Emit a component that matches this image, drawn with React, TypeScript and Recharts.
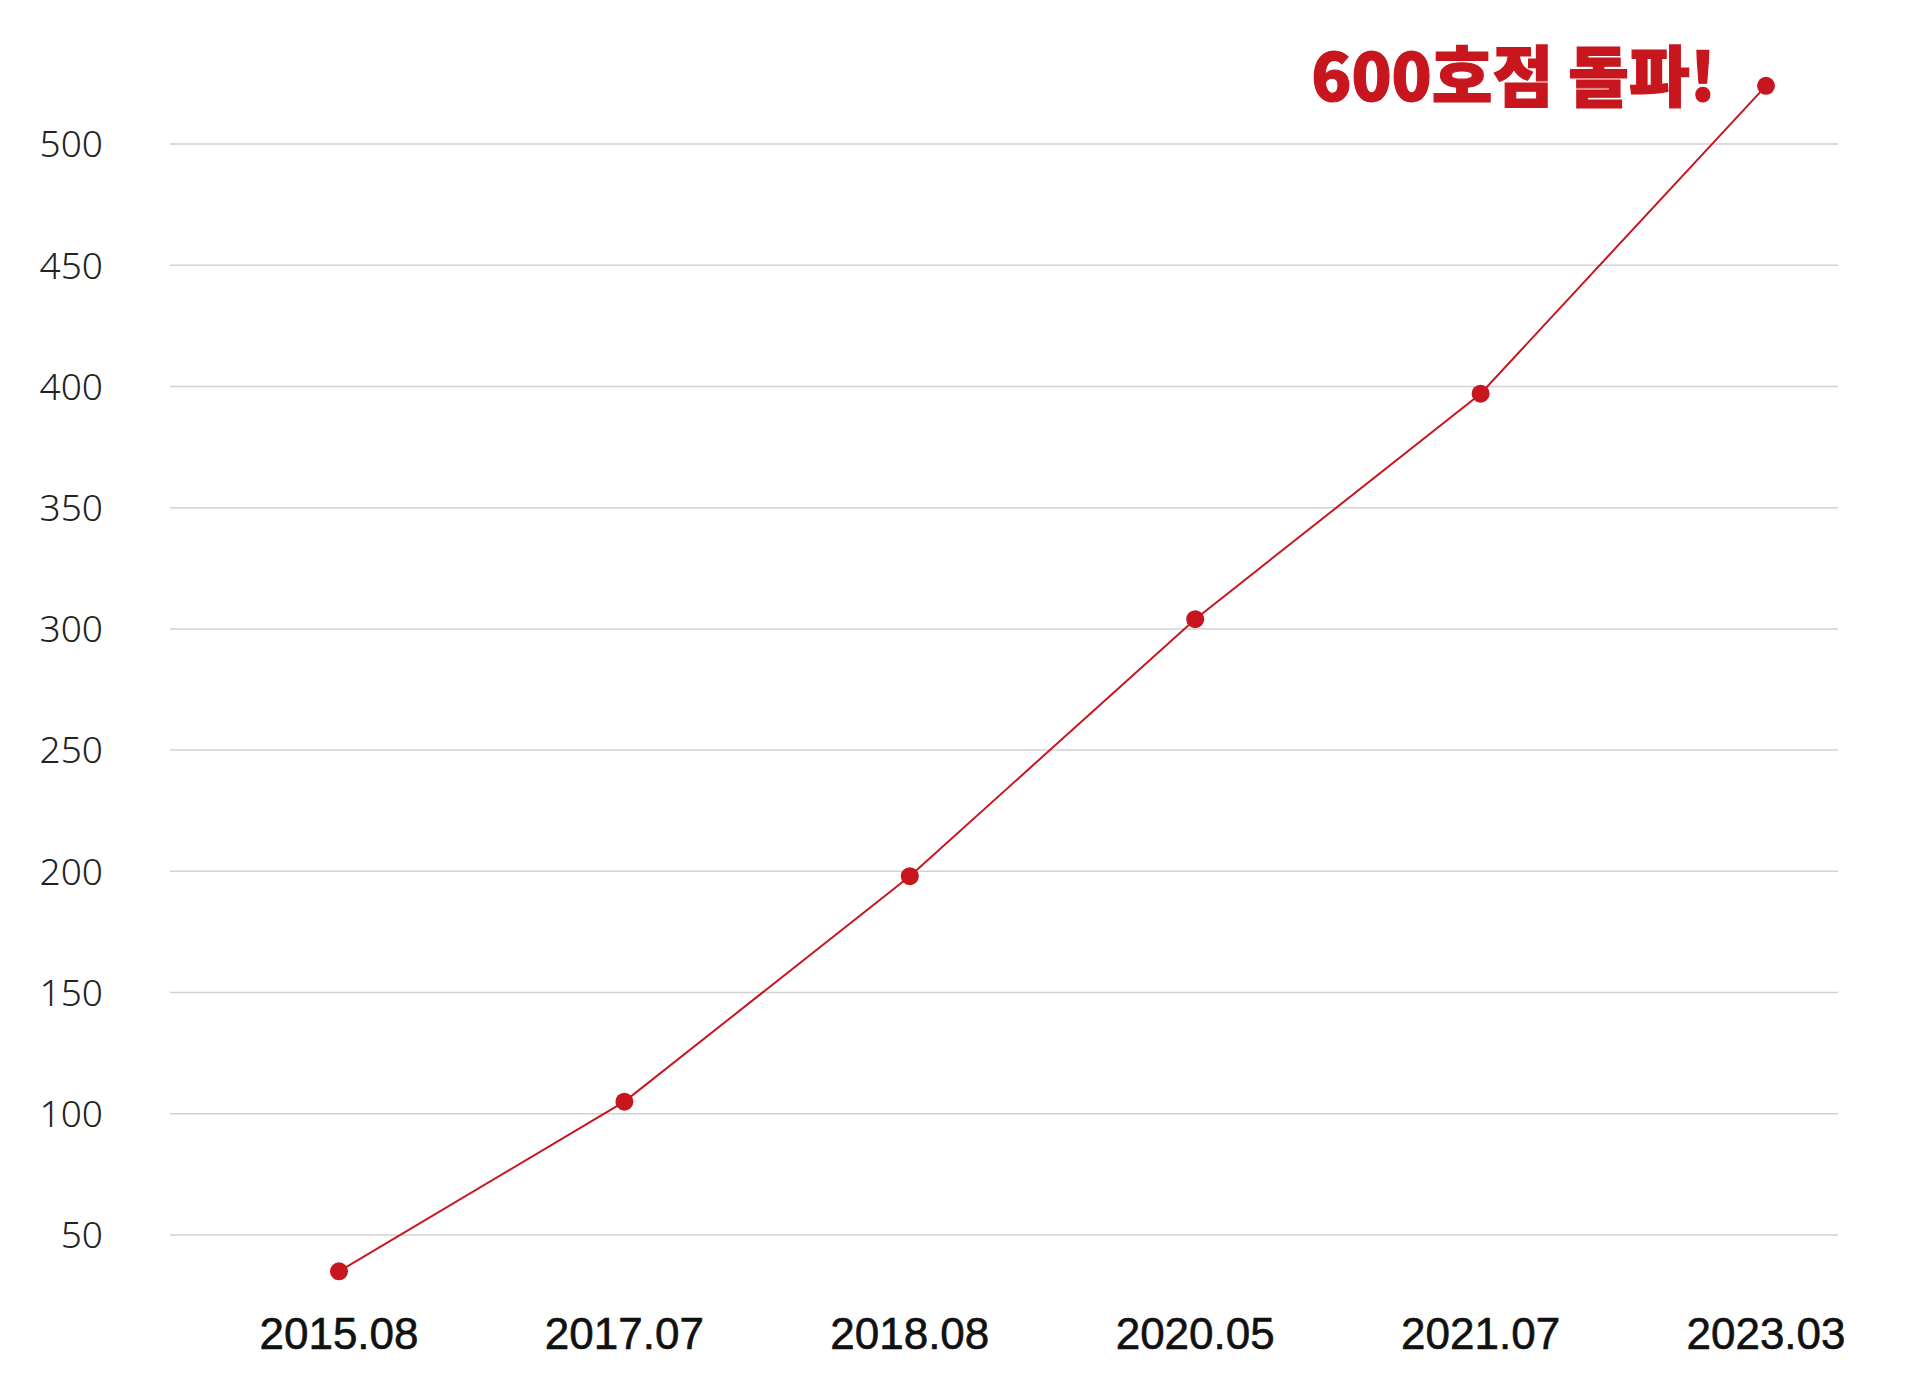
import { LineChart, Line, XAxis, YAxis, CartesianGrid, LabelList } from "recharts";

const periods = ["2015.08", "2017.07", "2018.08", "2020.05", "2021.07", "2023.03"];
const storeCounts = [35, 105, 198, 304, 397, 524];
const yTicks = [50, 100, 150, 200, 250, 300, 350, 400, 450, 500];
const milestoneLabel = "600호점 돌파!";

const RED = "#c8161e";

const data = periods.map((period, i) => ({ period, stores: storeCounts[i] }));

function YTick({ x, y, payload }: any) {
  return (
    <text
      x={x - 67}
      y={y}
      dy="0.36em"
      textAnchor="end"
      fill="#222"
      fontSize={37}
      fontWeight={300}
      fontFamily="'Noto Sans', 'Open Sans', sans-serif"
    >
      {payload.value}
    </text>
  );
}

function XTick({ x, y, payload }: any) {
  return (
    <text
      x={x}
      y={y + 41}
      textAnchor="middle"
      fill="#111"
      stroke="#111"
      strokeWidth={0.6}
      fontSize={44}
      fontFamily="'Liberation Sans', Arial, sans-serif"
    >
      {payload.value}
    </text>
  );
}

function MilestoneLabel({ x, y, index }: any) {
  if (index !== storeCounts.length - 1) return null;
  return (
    <text
      x={x - 50}
      y={y + 15}
      textAnchor="end"
      fill={RED}
      stroke={RED}
      strokeWidth={1.2}
      fontSize={66}
      fontWeight={900}
      fontFamily="'Noto Sans CJK KR', sans-serif"
    >
      {milestoneLabel}
    </text>
  );
}

export default function App() {
  return (
    <div style={{ position: "absolute", left: 0, top: 0, width: 1920, height: 1391, background: "#fff" }}>
      <LineChart width={1920} height={1391} data={data} margin={{ top: 47.02, right: 82, bottom: 0, left: 0 }}>
        <CartesianGrid vertical={false} horizontalValues={yTicks} stroke="#d2d2d2" strokeWidth={1.5} />
        <XAxis
          dataKey="period"
          scale="point"
          padding={{ left: 169, right: 72 }}
          axisLine={false}
          tickLine={false}
          tickSize={0}
          tickMargin={0}
          height={83.27}
          interval={0}
          tick={<XTick />}
        />
        <YAxis
          domain={[20, 540]}
          ticks={yTicks}
          interval={0}
          width={170}
          axisLine={false}
          tickLine={false}
          tickSize={0}
          tickMargin={0}
          tick={<YTick />}
        />
        <Line
          type="linear"
          dataKey="stores"
          stroke={RED}
          strokeWidth={2}
          dot={{ r: 9, fill: RED, stroke: "none" }}
          activeDot={false}
          isAnimationActive={false}
        >
          <LabelList dataKey="stores" content={<MilestoneLabel />} />
        </Line>
      </LineChart>
    </div>
  );
}
